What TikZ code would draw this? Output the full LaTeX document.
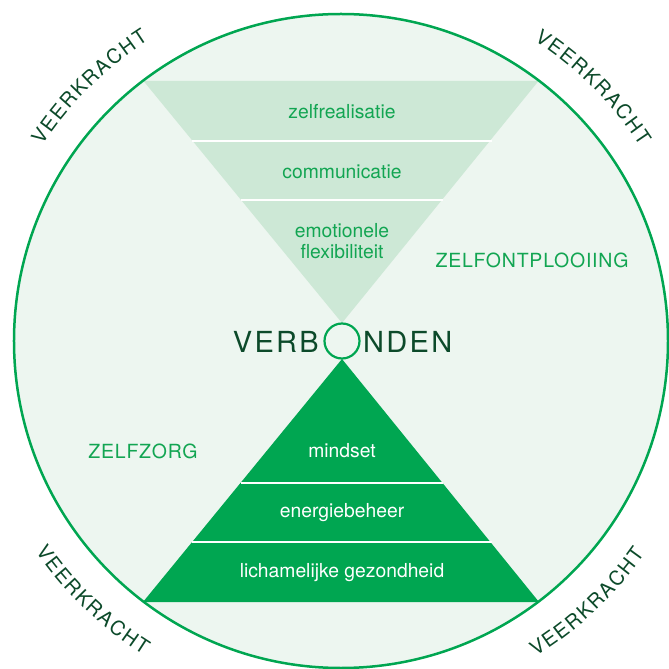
\documentclass[tikz,border=0pt]{standalone}
\usepackage{fontspec}
\setmainfont{TeX Gyre Heros}
\definecolor{bgc}{HTML}{EDF6F0}
\definecolor{topc}{HTML}{CDE8D6}
\definecolor{grn}{HTML}{00A651}
\definecolor{dark}{HTML}{0C4A2A}
\definecolor{txtg}{HTML}{12A552}
% draws VEERKRACHT letter by letter along an arc
% #1 name prefix, #2 centre angle, #3 baseline radius, #4 1 = clockwise/tops out, -1 = counter-clockwise/tops in
\newcommand{\vkword}[4]{%
  \foreach \ch/\off [count=\i] in {V/-68.87,E/-53.93,E/-38.99,R/-23.50,K/-8.01,R/7.48,A/22.97,C/38.46,H/54.50,T/69.43}{%
    \pgfmathsetmacro{\ang}{#2 - #4*\off*57.2958/#3}%
    \pgfmathsetmacro{\rot}{\ang - #4*90}%
    \node[vkl, rotate=\rot, anchor=base] (#1\i) at (\ang:#3) {\ch};
  }}
\begin{document}
\begin{tikzpicture}[x=1pt,y=1pt,
  lbl/.style={font=\fontsize{19.3}{23}\selectfont, text=txtg, inner sep=0pt, align=center},
  wlbl/.style={lbl, text=white},
  caps/.style={font=\fontsize{19.5}{23}\selectfont\addfontfeatures{LetterSpace=4}, text=txtg, inner sep=0pt},
  bigword/.style={font=\fontsize{29}{32}\selectfont\addfontfeatures{LetterSpace=8}, text=dark, inner sep=0pt},
  vkl/.style={font=\fontsize{20}{24}\selectfont, text=dark, inner sep=0pt},
  sepline/.style={draw=white, line width=1.2pt}]
\useasboundingbox (-341,-328) rectangle (328,341);
% background disc
\fill[bgc] (0,0) circle[radius=328];
% triangles
\coordinate (tl) at (-197.5,260);
\coordinate (tr) at (197.5,260);
\coordinate (ta) at (1,18);
\coordinate (bl) at (-198,-261);
\coordinate (br) at (198,-261);
\coordinate (ba) at (1,-18);
\fill[topc] (tl) -- (tr) -- (ta) -- cycle;
\fill[grn] (bl) -- (br) -- (ba) -- cycle;
% band separators
\coordinate (t1l) at (-148.5,200); \coordinate (t1r) at (150.5,200);
\coordinate (t2l) at (-100,141); \coordinate (t2r) at (102,141);
\coordinate (b1l) at (-100,-142); \coordinate (b1r) at (102,-142);
\coordinate (b2l) at (-149,-201); \coordinate (b2r) at (151,-201);
\draw[sepline] (t1l) -- (t1r);
\draw[sepline] (t2l) -- (t2r);
\draw[sepline] (b1l) -- (b1r);
\draw[sepline] (b2l) -- (b2r);
% outer ring
\draw[grn, line width=2.5pt] (0,0) circle[radius=327];
% centre ring (the O)
\node[circle, draw=grn, line width=2.2pt, fill=bgc, minimum size=35pt, inner sep=0pt] (ring) at (1,0) {};
\node[bigword, anchor=base east] (verb) at (-22,-12) {VERB};
\node[bigword, anchor=base west] (nden) at (22,-12) {NDEN};
% labels in top triangle
\node[lbl] (zr) at (1,229) {zelfrealisatie};
\node[lbl] (cm) at (1,169) {communicatie};
\node[lbl] (ef) at (1,100) {emotionele\\[-2pt]flexibiliteit};
% labels in bottom triangle
\node[wlbl] (md) at (1,-110) {mindset};
\node[wlbl] (eb) at (1,-172) {energiebeheer};
\node[wlbl] (lg) at (1,-232) {lichamelijke gezondheid};
% side labels
\node[caps] (zz) at (-198,-110) {ZELFZORG};
\node[caps] (zo) at (191,81) {ZELFONTPLOOIING};
% VEERKRACHT around the ring
\vkword{vka}{134.7}{357}{1}
\vkword{vkb}{45.2}{357}{1}
\vkword{vkc}{226.2}{371}{-1}
\vkword{vkd}{313.3}{371}{-1}
\end{tikzpicture}
\end{document}
